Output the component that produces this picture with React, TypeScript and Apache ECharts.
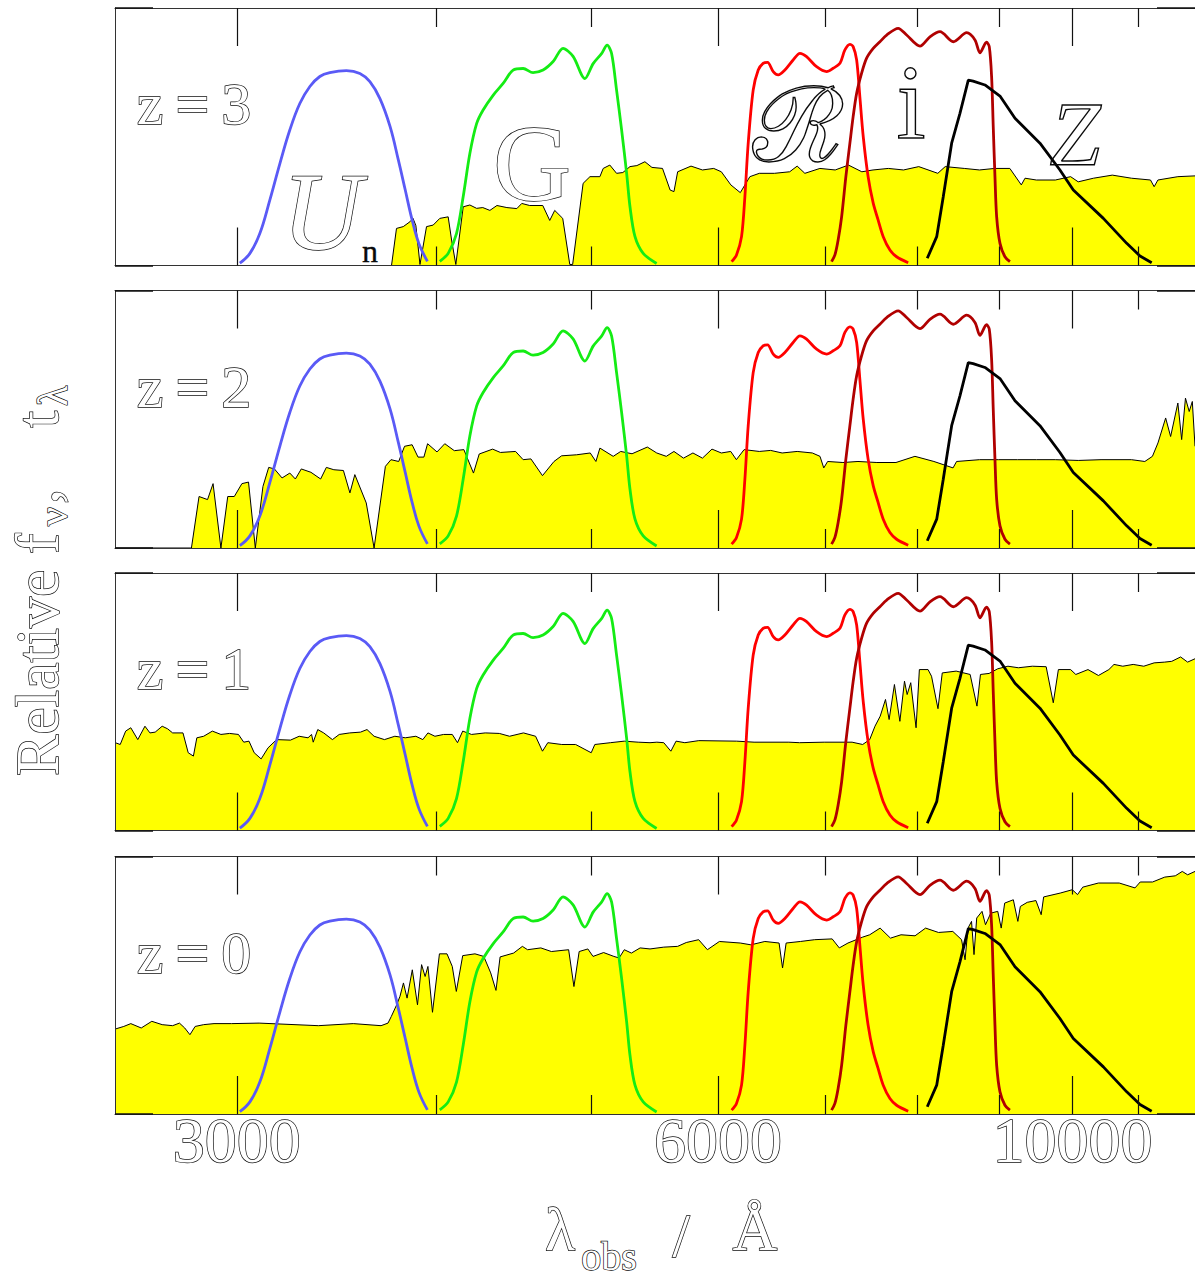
import React, { useEffect, useRef } from "react";
import * as echarts from "echarts";

// ---------------- axis ----------------
const X_MIN = 2517;
const X_MAX = 11932;
const MAJOR_TICKS = [3000, 6000, 10000];
const MINOR_TICKS = [4000, 5000, 7000, 8000, 9000, 11000];
const PANEL_NAMES = ["z\u2009=\u20093", "z\u2009=\u20092", "z\u2009=\u20091", "z\u2009=\u20090"];

// ---------------- filter transmission curves (relative, % of panel height) ----------------
const UN_LAM = [3013, 3057, 3101, 3146, 3192, 3238, 3285, 3333, 3381, 3430, 3513, 3582, 3634, 3687, 3741, 3786, 3824, 3862, 3900, 3948];
const UN_T = [0.9, 4.7, 12.4, 25.4, 39.6, 52.6, 62.9, 69.5, 73.4, 74.9, 75.7, 74.6, 71.4, 64.8, 54.0, 41.0, 29.3, 17.7, 8.5, 1.6];

const G_LAM = [4019, 4068, 4117, 4157, 4197, 4238, 4278, 4341, 4403, 4467, 4532, 4597, 4664, 4732, 4800, 4870, 4954, 5013, 5074, 5115, 5148, 5185, 5223, 5261, 5286, 5324, 5388, 5493];
const G_T = [1.6, 4.7, 12.4, 26.8, 43.5, 55.1, 60.4, 66.2, 70.7, 75.9, 76.5, 74.9, 75.9, 79.2, 84.3, 81.2, 72.6, 78.4, 82.3, 85.6, 82.3, 68.1, 52.6, 35.7, 22.9, 11.3, 4.7, 0.8];

const R_LAM = [6120, 6163, 6208, 6238, 6268, 6313, 6359, 6404, 6445, 6498, 6545, 6608, 6687, 6753, 6818, 6917, 7018, 7085, 7154, 7205, 7257, 7291, 7328, 7362, 7398, 7450, 7505, 7558, 7614, 7688, 7762, 7893];
const R_T = [1.5, 4.1, 11.2, 26.7, 47.5, 68.1, 75.9, 78.5, 78.9, 75.3, 74.0, 75.9, 79.8, 82.4, 81.1, 77.2, 75.3, 76.6, 78.5, 83.7, 85.9, 85.0, 79.8, 65.5, 50.0, 34.5, 24.2, 17.7, 11.2, 6.0, 3.4, 1.1];

const I_LAM = [7068, 7102, 7135, 7171, 7215, 7257, 7291, 7328, 7380, 7434, 7505, 7578, 7652, 7780, 7875, 8028, 8144, 8263, 8423, 8587, 8690, 8753, 8836, 8871, 8901, 8922, 8944, 8966, 9009, 9074, 9139];
const I_T = [1.5, 4.1, 9.9, 18.9, 34.5, 47.5, 57.8, 66.9, 74.6, 80.5, 84.3, 86.9, 89.5, 92.1, 89.5, 85.2, 88.8, 90.8, 86.9, 90.4, 87.6, 82.6, 86.7, 85.0, 73.3, 53.9, 34.5, 18.9, 8.6, 3.4, 1.5];

const Z_LAM = [8113, 8224, 8302, 8403, 8504, 8607, 8667, 8816, 9009, 9206, 9543, 9822, 10013, 10456, 10814, 11023, 11210];
const Z_T = [2.8, 11.2, 26.7, 47.5, 59.1, 72.0, 71.6, 70.1, 65.8, 57.2, 47.5, 37.1, 29.3, 18.3, 8.6, 3.7, 1.1];

// ---------------- redshifted spectra (relative f_nu) ----------------
const Z3_LAM = [2517, 3749, 3776, 3813, 3850, 3867, 3883, 3906, 3943, 3981, 4019, 4068, 4088, 4113, 4157, 4197, 4238, 4276, 4320, 4364, 4427, 4491, 4523, 4575, 4662, 4709, 4743, 4798, 4847, 4867, 4941, 4990, 5062, 5086, 5135, 5185, 5232, 5286, 5339, 5401, 5456, 5540, 5601, 5632, 5662, 5772, 5868, 5964, 6030, 6113, 6197, 6283, 6369, 6509, 6654, 6726, 6801, 6950, 7105, 7242, 7383, 7503, 7670, 7840, 8014, 8237, 8325, 8557, 8747, 8941, 9138, 9290, 9340, 9494, 9757, 9974, 10084, 10308, 10592, 10888, 11191, 11250, 11311, 11641, 11932];
const Z3_FLUX = [0, 0, 14.4, 15.1, 17.0, 18.3, 15.5, 0.4, 15.1, 15.7, 18.3, 18.9, 9.9, 0.4, 22.8, 23.5, 22.2, 22.5, 21.4, 23.3, 22.5, 22.1, 24.1, 23.3, 23.3, 17.5, 21.4, 18.3, 0.4, 0.4, 31.9, 34.5, 34.5, 37.7, 39.0, 35.8, 36.1, 38.4, 38.8, 40.3, 38.1, 37.7, 29.3, 28.7, 36.4, 38.6, 37.1, 37.7, 36.4, 31.3, 28.3, 34.5, 35.8, 35.8, 36.4, 38.6, 35.8, 37.7, 37.1, 39.0, 36.4, 37.1, 37.7, 37.1, 38.4, 35.8, 38.4, 37.7, 37.1, 37.7, 37.7, 31.3, 33.9, 33.2, 33.2, 34.5, 32.5, 33.9, 35.1, 33.9, 33.2, 30.6, 33.2, 34.5, 34.8];

const Z2_LAM = [2517, 2810, 2841, 2876, 2899, 2932, 2961, 2989, 3022, 3051, 3081, 3115, 3141, 3167, 3202, 3238, 3264, 3292, 3338, 3385, 3413, 3450, 3498, 3531, 3556, 3615, 3656, 3716, 3746, 3788, 3820, 3862, 3895, 3928, 3949, 4003, 4048, 4104, 4161, 4219, 4254, 4337, 4386, 4483, 4532, 4583, 4660, 4738, 4790, 4895, 4992, 5033, 5062, 5160, 5216, 5302, 5420, 5494, 5570, 5632, 5710, 5788, 5868, 5949, 6030, 6112, 6162, 6231, 6369, 6474, 6582, 6726, 6875, 6951, 6989, 7028, 7184, 7342, 7545, 7755, 7970, 8191, 8420, 8463, 8747, 8989, 9239, 9494, 9757, 10084, 10421, 10888, 11100, 11222, 11312, 11438, 11520, 11641, 11705, 11769, 11833, 11886, 11932];
const Z2_FLUX = [0, 0, 20.0, 18.8, 25.0, 0, 20.0, 20.0, 25.0, 25.6, 0, 23.9, 31.3, 30.7, 27.2, 29.1, 26.8, 30.7, 29.4, 26.8, 31.3, 30.4, 30.1, 21.4, 28.5, 17.5, 0, 31.7, 34.3, 33.6, 39.5, 40.1, 35.3, 35.3, 40.5, 37.3, 40.5, 37.8, 38.2, 29.1, 36.5, 38.4, 37.1, 37.5, 34.3, 34.6, 28.1, 33.6, 35.8, 36.2, 36.9, 33.6, 38.8, 35.6, 37.5, 36.6, 39.2, 36.9, 35.6, 37.5, 34.9, 36.9, 34.9, 38.4, 36.9, 37.5, 34.3, 38.2, 37.5, 37.9, 36.9, 37.5, 36.9, 35.6, 31.1, 33.6, 33.2, 33.6, 33.2, 33.2, 35.6, 33.6, 31.1, 33.6, 34.3, 34.3, 34.3, 34.3, 34.3, 34.0, 34.3, 34.3, 33.6, 35.6, 40.8, 50.5, 43.3, 56.3, 42.1, 58.2, 53.0, 56.9, 39.5];

const Z1_LAM = [2518, 2536, 2556, 2575, 2601, 2628, 2647, 2667, 2694, 2715, 2735, 2776, 2797, 2818, 2832, 2860, 2896, 2932, 2969, 3007, 3030, 3053, 3076, 3107, 3138, 3177, 3241, 3282, 3324, 3341, 3349, 3371, 3400, 3443, 3477, 3530, 3585, 3619, 3656, 3711, 3767, 3824, 3883, 3922, 3951, 3991, 4041, 4092, 4123, 4154, 4207, 4291, 4379, 4444, 4534, 4614, 4660, 4696, 4791, 4888, 4999, 5025, 5139, 5243, 5349, 5441, 5495, 5550, 5607, 5649, 5721, 5837, 6165, 6321, 6646, 6749, 6993, 7280, 7392, 7467, 7524, 7581, 7639, 7679, 7738, 7799, 7851, 7881, 7922, 7983, 8021, 8122, 8163, 8239, 8290, 8458, 8630, 8715, 8759, 8869, 8980, 9113, 9251, 9439, 9629, 9728, 9800, 9974, 10049, 10227, 10382, 10539, 10618, 10753, 10915, 11083, 11250, 11423, 11539, 11687, 11806, 11932];
const Z1_FLUX = [34.1, 33.4, 38.6, 39.9, 35.3, 40.5, 37.9, 38.2, 40.5, 39.5, 37.9, 37.9, 30.2, 28.9, 36.0, 36.6, 38.6, 37.3, 37.7, 37.3, 34.3, 34.7, 30.2, 27.8, 32.1, 35.3, 35.1, 36.6, 36.0, 37.3, 34.3, 39.2, 37.9, 35.3, 37.3, 37.9, 38.2, 39.2, 36.6, 35.3, 36.6, 36.0, 36.6, 35.3, 37.9, 36.6, 37.3, 37.3, 34.1, 38.6, 37.3, 37.9, 37.7, 36.6, 37.9, 36.6, 30.8, 34.1, 33.4, 33.4, 30.2, 33.4, 34.1, 34.7, 34.3, 34.1, 34.3, 34.1, 30.8, 34.7, 34.1, 34.9, 34.7, 34.3, 34.3, 34.1, 34.3, 34.3, 33.4, 35.3, 40.5, 44.4, 50.9, 43.1, 56.7, 42.4, 58.0, 52.8, 57.4, 39.9, 62.5, 62.5, 59.9, 47.3, 61.2, 61.9, 60.6, 48.3, 60.6, 61.0, 62.8, 63.8, 63.2, 63.8, 63.6, 49.6, 62.5, 62.5, 60.6, 62.5, 60.2, 62.5, 64.5, 63.8, 64.5, 63.8, 65.1, 65.4, 65.7, 67.4, 65.4, 66.7];

const Z0_LAM = [2518, 2549, 2575, 2614, 2654, 2694, 2735, 2762, 2783, 2804, 2825, 2860, 2903, 2977, 3098, 3374, 3548, 3693, 3730, 3748, 3777, 3795, 3814, 3834, 3863, 3892, 3915, 3935, 3951, 3977, 4017, 4061, 4092, 4116, 4154, 4228, 4282, 4325, 4358, 4384, 4470, 4527, 4561, 4649, 4720, 4839, 4876, 4913, 4975, 5012, 5089, 5165, 5204, 5243, 5297, 5364, 5441, 5550, 5662, 5733, 5836, 5910, 6013, 6197, 6292, 6420, 6553, 6586, 6620, 6758, 6898, 7074, 7147, 7237, 7392, 7467, 7580, 7694, 7812, 7971, 8093, 8245, 8417, 8524, 8567, 8603, 8647, 8678, 8712, 8779, 8823, 8890, 8980, 9025, 9070, 9184, 9244, 9277, 9370, 9488, 9560, 9594, 9826, 9999, 10074, 10150, 10382, 10698, 10944, 11026, 11224, 11423, 11598, 11715, 11806, 11932];
const Z0_FLUX = [33.0, 34.0, 35.1, 33.4, 36.0, 34.7, 34.3, 35.3, 33.4, 30.8, 34.0, 34.7, 35.1, 35.1, 35.3, 34.3, 35.1, 34.3, 35.3, 37.9, 42.4, 45.7, 50.9, 45.0, 56.0, 42.4, 58.0, 53.4, 57.3, 39.5, 62.2, 62.2, 57.3, 47.6, 61.5, 62.2, 61.2, 54.8, 48.0, 61.0, 62.5, 65.1, 63.8, 64.5, 63.1, 63.8, 49.5, 63.1, 64.1, 61.2, 62.7, 61.2, 60.6, 63.8, 62.5, 64.5, 64.1, 64.8, 65.1, 66.6, 67.7, 63.8, 67.0, 66.4, 65.7, 67.0, 66.4, 56.7, 66.4, 67.0, 67.7, 68.0, 64.5, 66.4, 68.7, 69.6, 72.2, 68.3, 69.6, 69.2, 72.2, 70.5, 70.9, 67.7, 59.9, 72.2, 74.8, 61.9, 76.1, 78.7, 73.5, 78.0, 78.7, 72.2, 81.9, 83.2, 74.8, 80.6, 82.2, 82.9, 77.4, 84.3, 85.8, 87.1, 85.2, 88.1, 89.7, 89.7, 87.8, 90.1, 90.1, 92.0, 92.5, 94.2, 92.9, 94.2];

// ---------------- styling / layout ----------------
const SERIF = '"Liberation Serif", "DejaVu Serif", serif';
const INK = "#0a0a0a";
const STROKE_W = 1.4;
const GRID_TOPS = [8, 290.5, 573, 856.5];
const GRID_H = 257.5;
const GRID_LEFT = 115;
const GRID_W = 1080;

function pairs(xs: number[], ys: number[]) {
  return xs.map((x, i) => [x, ys[i]]);
}

function hollowText(text: string, x: number, y: number, size: number, opts: any = {}) {
  const font = `${opts.italic ? "italic " : ""}${size}px ${SERIF}`;
  return {
    type: "text",
    x,
    y,
    z: 50,
    silent: true,
    style: {
      text,
      font,
      fill: opts.fill ?? "#ffffff",
      stroke: INK,
      lineWidth: opts.lw ?? STROKE_W,
      textAlign: opts.align ?? "center",
      textVerticalAlign: "middle",
      align: opts.align ?? "center",
      verticalAlign: "middle",
    },
  };
}

function xAxisDef(gridIndex: number, position: string, ticks: number[], length: number, showLine: boolean, showLabel: boolean) {
  return {
    type: "log",
    logBase: 10,
    gridIndex,
    position,
    min: X_MIN,
    max: X_MAX,
    z: 6,
    axisLine: { show: showLine, onZero: false, lineStyle: { color: "#333", width: 1 } },
    axisTick: { show: true, inside: true, length, customValues: ticks, lineStyle: { color: "#111", width: 1.2 } },
    axisLabel: showLabel
      ? {
          show: true,
          customValues: ticks,
          formatter: (v: number) => String(Math.round(v)),
          fontFamily: SERIF,
          fontSize: 64,
          color: "#ffffff",
          textBorderColor: INK,
          textBorderWidth: STROKE_W,
          margin: -6,
        }
      : { show: false },
    splitLine: { show: false },
    minorTick: { show: false },
    minorSplitLine: { show: false },
  };
}

function yAxisDef(gridIndex: number, position: string) {
  return {
    type: "value",
    gridIndex,
    position,
    min: 0,
    max: 100,
    z: 6,
    axisLine: { show: true, onZero: false, lineStyle: { color: "#333", width: 1 } },
    axisTick: { show: true, inside: true, length: 38, customValues: [0, 100], lineStyle: { color: "#111", width: 1.6 } },
    axisLabel: { show: false },
    splitLine: { show: false },
  };
}

export default function App() {
  const ref = useRef<HTMLDivElement>(null);

  useEffect(() => {
    if (!ref.current) return;
    const chart = echarts.init(ref.current, undefined, { renderer: "svg" });

    const spectra = [
      pairs(Z3_LAM, Z3_FLUX),
      pairs(Z2_LAM, Z2_FLUX),
      pairs(Z1_LAM, Z1_FLUX),
      pairs(Z0_LAM, Z0_FLUX),
    ];
    const filters = [
      { name: "Un", data: pairs(UN_LAM, UN_T), color: "#5a5af6", smooth: 0.4 },
      { name: "G", data: pairs(G_LAM, G_T), color: "#14ec14", smooth: 0.3 },
      { name: "R", data: pairs(R_LAM, R_T), color: "#ff0000", smooth: 0.3 },
      { name: "i", data: pairs(I_LAM, I_T), color: "#b00000", smooth: 0.3 },
      { name: "Z", data: pairs(Z_LAM, Z_T), color: "#000000", smooth: false },
    ];

    const grids: any[] = [];
    const xAxes: any[] = [];
    const yAxes: any[] = [];
    const series: any[] = [];

    GRID_TOPS.forEach((top, g) => {
      grids.push({ left: GRID_LEFT, top, width: GRID_W, height: GRID_H, containLabel: false });
      xAxes.push(xAxisDef(g, "bottom", MAJOR_TICKS, 38, true, g === 3));
      xAxes.push(xAxisDef(g, "bottom", MINOR_TICKS, 19, false, false));
      xAxes.push(xAxisDef(g, "top", MAJOR_TICKS, 38, true, false));
      xAxes.push(xAxisDef(g, "top", MINOR_TICKS, 19, false, false));
      yAxes.push(yAxisDef(g, "left"));
      yAxes.push(yAxisDef(g, "right"));

      series.push({
        type: "line",
        name: "spectrum " + g,
        xAxisIndex: 4 * g,
        yAxisIndex: 2 * g,
        data: spectra[g],
        symbol: "none",
        lineStyle: { color: "#000", width: 1 },
        areaStyle: { color: "#ffff00", opacity: 1 },
        z: 1,
        silent: true,
      });
      filters.forEach((f) => {
        series.push({
          type: "line",
          name: f.name + " " + g,
          xAxisIndex: 4 * g,
          yAxisIndex: 2 * g,
          data: f.data,
          symbol: "none",
          smooth: f.smooth,
          lineStyle: { color: f.color, width: 2.8 },
          z: 3,
          silent: true,
        });
      });
    });

    // y-axis title pieces along a rotated baseline (local x runs upward on screen)
    const fMain = `62px ${SERIF}`;
    const fSub = `42px ${SERIF}`;
    const yTitleStyle = (text: string, font: string) => ({
      text,
      font,
      fill: "#ffffff",
      stroke: INK,
      lineWidth: STROKE_W,
      textAlign: "left",
      textVerticalAlign: "middle",
      align: "left",
      verticalAlign: "middle",
    });

    const graphics: any[] = [
      ...PANEL_NAMES.map((t, g) => hollowText(t, 194, GRID_TOPS[g] + 96, 60)),
      hollowText("U", 322, 212, 110, { italic: true }),
      hollowText("n", 370, 251, 32, { fill: INK, lw: 0.3 }),
      hollowText("G", 532, 163, 108),
      hollowText("\u211b", 798, 125, 104, { fill: "rgba(255,255,255,0)" }),
      hollowText("i", 911, 102, 105, { fill: "rgba(255,255,255,0)" }),
      hollowText("Z", 1075, 134, 92, { italic: true, fill: "rgba(255,255,255,0)" }),
      {
        type: "group",
        x: 37,
        y: 776,
        rotation: Math.PI / 2,
        children: [
          { type: "text", x: 0, y: 0, silent: true, style: yTitleStyle("Relative f", fMain) },
          { type: "text", x: 250, y: 16, silent: true, style: yTitleStyle("\u03bd", fSub) },
          { type: "text", x: 272, y: 0, silent: true, style: yTitleStyle(",", fMain) },
          { type: "text", x: 348, y: 0, silent: true, style: yTitleStyle("t", fMain) },
          { type: "text", x: 370, y: 16, silent: true, style: yTitleStyle("\u03bb", fSub) },
        ],
      },
      hollowText("\u03bb", 560, 1229, 62),
      hollowText("obs", 609, 1256, 40),
      hollowText("/", 681, 1235, 62),
      hollowText("\u00c5", 755, 1229, 62),
    ];

    chart.setOption({
      animation: false,
      backgroundColor: "#ffffff",
      grid: grids,
      xAxis: xAxes,
      yAxis: yAxes,
      series,
      graphic: { elements: graphics },
    });

    return () => chart.dispose();
  }, []);

  return <div ref={ref} style={{ position: "absolute", left: 0, top: 0, width: 1195, height: 1281 }} />;
}
